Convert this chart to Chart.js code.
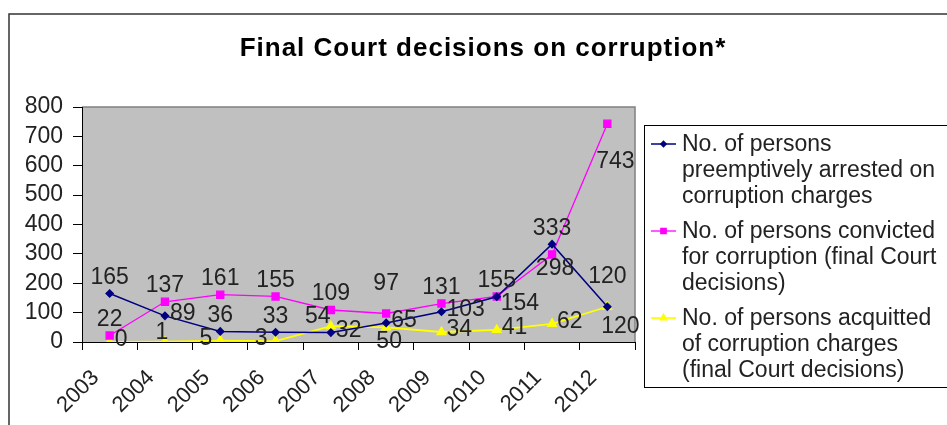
<!DOCTYPE html>
<html>
<head>
<meta charset="utf-8">
<script src="https://cdn.jsdelivr.net/npm/chart.js@4"></script>
<style>
  body { margin: 0; background: #fff; }
  canvas { display: block; }
</style>
</head>
<body>
<canvas id="myChart" width="947" height="425"></canvas>
<script>
// data
const years = ['2003', '2004', '2005', '2006', '2007', '2008', '2009', '2010', '2011', '2012'];
const arrested = [165, 89, 36, 33, 32, 65, 103, 154, 333, 120];
const convicted = [22, 137, 161, 155, 109, 97, 131, 155, 298, 743];
const acquitted = [0, 1, 5, 3, 54, 50, 34, 41, 62, 120];
const yTicks = [0, 100, 200, 300, 400, 500, 600, 700, 800];

const seriesNames = [
    ['No. of persons', 'preemptively arrested on', 'corruption charges'],
    ['No. of persons convicted', 'for corruption (final Court', 'decisions)'],
    ['No. of persons acquitted', 'of corruption charges', '(final Court decisions)']
];

const FONT = '"Liberation Sans", Arial, sans-serif';

// where each value label sits relative to its point
const anchors = {
    top:        { dx: 0,   dy: -16, align: 'center' },
    high:       { dx: 0,   dy: -30, align: 'center' },
    up:         { dx: -3,  dy: -9,  align: 'center' },
    right:      { dx: 5,   dy: -2,  align: 'left' },
    rightlow:   { dx: 4,   dy: 7,   align: 'left' },
    left:       { dx: -8,  dy: -2,  align: 'right' },
    topleft:    { dx: -13, dy: -9,  align: 'center' },
    below:      { dx: 3,   dy: 14,  align: 'center' },
    low:        { dx: 8,   dy: 38,  align: 'center' },
    belowright: { dx: 13,  dy: 20,  align: 'center' }
};

const valueLabels = {
    id: 'valueLabels',
    afterDatasetsDraw(chart) {
        const ctx = chart.ctx;
        ctx.save();
        ctx.font = '23px ' + FONT;
        ctx.fillStyle = '#222';
        ctx.textBaseline = 'middle';
        chart.data.datasets.forEach((ds, di) => {
            const meta = chart.getDatasetMeta(di);
            meta.data.forEach((pt, i) => {
                const a = anchors[ds.labelAnchor[i]] || anchors.top;
                ctx.textAlign = a.align;
                ctx.fillText(String(ds.data[i]), pt.x + a.dx, pt.y + a.dy);
            });
        });
        ctx.restore();
    }
};

const frame = {
    id: 'frame',
    beforeDraw(chart) {
        const ctx = chart.ctx;
        const ca = chart.chartArea;
        ctx.save();
        // outer frame
        ctx.strokeStyle = '#333';
        ctx.lineWidth = 1.5;
        ctx.strokeRect(9, 14, 1000, 500);
        // plot area
        ctx.fillStyle = '#c0c0c0';
        ctx.fillRect(ca.left, ca.top, ca.right - ca.left, ca.bottom - ca.top);
        ctx.strokeStyle = '#808080';
        ctx.lineWidth = 1.5;
        ctx.beginPath();
        ctx.moveTo(ca.left, ca.top);
        ctx.lineTo(ca.right, ca.top);
        ctx.lineTo(ca.right, ca.bottom);
        ctx.stroke();
        // title
        ctx.fillStyle = '#000';
        ctx.font = 'bold 26px ' + FONT;
        ctx.letterSpacing = '1px';
        ctx.textAlign = 'center';
        ctx.textBaseline = 'alphabetic';
        ctx.fillText('Final Court decisions on corruption*', 483, 56);
        ctx.restore();
    },
    afterDraw(chart) {
        const ctx = chart.ctx;
        ctx.save();
        ctx.strokeStyle = '#000';
        ctx.lineWidth = 1;
        ctx.strokeRect(644.5, 125.5, 400, 262);
        ctx.font = '23px ' + FONT;
        ctx.fillStyle = '#222';
        ctx.textAlign = 'left';
        ctx.textBaseline = 'alphabetic';
        const firstBase = [151, 238, 325];
        chart.data.datasets.forEach((ds, di) => {
            const b = firstBase[di];
            const sy = b - 7;
            ctx.strokeStyle = ds.borderColor;
            ctx.lineWidth = ds.borderWidth;
            ctx.beginPath();
            ctx.moveTo(651, sy);
            ctx.lineTo(676, sy);
            ctx.stroke();
            Chart.helpers.drawPoint(ctx, {
                pointStyle: ds.pointStyle,
                radius: ds.pointRadius * 0.75,
                borderWidth: 1
            }, 663.5, sy);
            ctx.fillStyle = ds.pointBackgroundColor;
            ctx.fill();
            ctx.fillStyle = '#222';
            seriesNames[di].forEach((line, li) => {
                ctx.fillText(line, 682, b + li * 26);
            });
        });
        ctx.restore();
    }
};

new Chart(document.getElementById('myChart'), {
    type: 'line',
    data: {
        labels: years,
        datasets: [{
            label: seriesNames[0].join(' '),
            data: arrested,
            borderColor: '#000080',
            backgroundColor: '#000080',
            pointBackgroundColor: '#000080',
            pointBorderColor: '#000080',
            pointStyle: 'rectRot',
            pointRadius: 3.5,
            borderWidth: 1.5,
            labelAnchor: ['top', 'right', 'top', 'top', 'right', 'right', 'right', 'rightlow', 'top', 'high']
        }, {
            label: seriesNames[1].join(' '),
            data: convicted,
            borderColor: '#ff00ff',
            backgroundColor: '#ff00ff',
            pointBackgroundColor: '#ff00ff',
            pointBorderColor: '#ff00ff',
            pointStyle: 'rect',
            pointRadius: 5,
            borderWidth: 1.3,
            labelAnchor: ['top', 'top', 'top', 'top', 'top', 'high', 'top', 'top', 'below', 'low']
        }, {
            label: seriesNames[2].join(' '),
            data: acquitted,
            borderColor: '#ffff00',
            backgroundColor: '#ffff00',
            pointBackgroundColor: '#ffff00',
            pointBorderColor: '#ffff00',
            pointStyle: 'triangle',
            pointRadius: 4.5,
            borderWidth: 1.8,
            labelAnchor: ['right', 'up', 'left', 'left', 'topleft', 'below', 'right', 'right', 'right', 'belowright']
        }]
    },
    options: {
        responsive: false,
        animation: false,
        layout: { padding: { top: 107, left: 0, right: 312, bottom: 0 } },
        plugins: {
            legend: { display: false },
            title: { display: false },
            tooltip: { enabled: false }
        },
        scales: {
            x: {
                offset: true,
                grid: { offset: true, drawOnChartArea: false, tickLength: 8, color: '#000' },
                border: { color: '#000', width: 1 },
                ticks: {
                    minRotation: 45,
                    maxRotation: 45,
                    autoSkip: false,
                    padding: 15,
                    labelOffset: -14,
                    color: '#222',
                    font: { family: FONT, size: 22 }
                },
                afterFit(scale) { scale.height = 83; }
            },
            y: {
                min: 0,
                max: 800,
                afterBuildTicks(scale) { scale.ticks = yTicks.map(v => ({ value: v })); },
                grid: { drawOnChartArea: false, tickLength: 9, color: '#000' },
                border: { color: '#000', width: 1 },
                ticks: {
                    autoSkip: false,
                    padding: 10,
                    color: '#222',
                    font: { family: FONT, size: 23 }
                },
                afterFit(scale) { scale.width = 82; }
            }
        }
    },
    plugins: [frame, valueLabels]
});
</script>
</body>
</html>
